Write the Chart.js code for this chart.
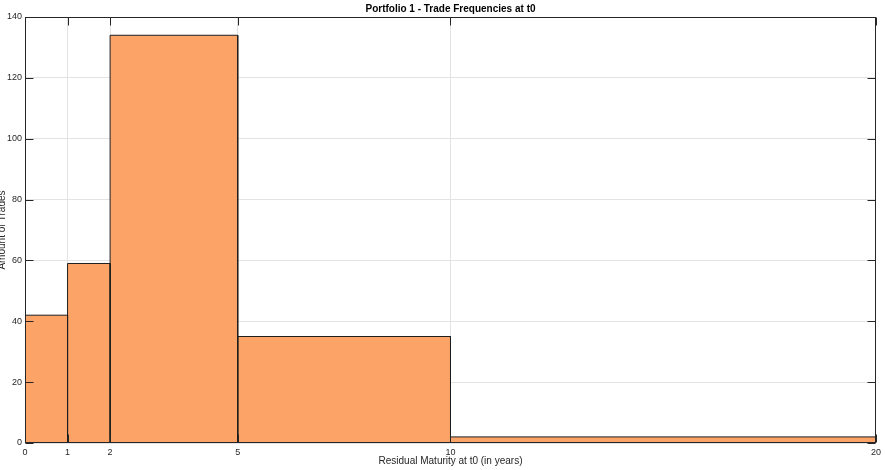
<!DOCTYPE html>
<html>
<head>
<meta charset="utf-8">
<script src="https://cdn.jsdelivr.net/npm/chart.js@4/dist/chart.umd.min.js"></script>
<style>
	html, body { margin: 0; padding: 0; background: #fff; }
	#wrap { width: 885px; height: 470px; }
</style>
</head>
<body>
<div id="wrap"><canvas id="myChart" width="885" height="470"></canvas></div>
<script>
// histogram data
const binEdges    = [0, 1, 2, 5, 10, 20]
const tradeCounts = [42, 59, 134, 35, 2]
const xTickValues = [0, 1, 2, 5, 10, 20]
const yTickValues = [0, 20, 40, 60, 80, 100, 120, 140]

const chartTitle = 'Portfolio 1 - Trade Frequencies at t0'
const xTitle     = 'Residual Maturity at t0 (in years)'
const yTitle     = 'Amount of Trades'

const barColor  = '#fca468'
const edgeColor = '#1e1e1e'
const axisColor = '#262626'
const gridColor = '#e3e3e3'
const fontFamily = "'Liberation Sans', Helvetica, Arial, sans-serif"

/* each bin becomes a closed outline, filled down to zero */
const datasets = tradeCounts.map((count, i) => ({
	data: [
		{ x: binEdges[i],     y: 0 },
		{ x: binEdges[i],     y: count },
		{ x: binEdges[i + 1], y: count },
		{ x: binEdges[i + 1], y: 0 }
	],
	showLine: true,
	fill: 'origin',
	backgroundColor: barColor,
	borderColor: edgeColor,
	borderWidth: 1,
	pointRadius: 0,
	tension: 0
}))

/* box, inward ticks and texts in the matlab look */
const frame = {
	id: 'frame',
	afterDatasetsDraw(chart) {
		const { ctx, chartArea: a, scales } = chart
		const L = Math.round(a.left) + 0.5, R = Math.round(a.right) - 0.5
		const T = Math.round(a.top) + 0.5, B = Math.round(a.bottom) - 0.5
		ctx.save()
		ctx.strokeStyle = axisColor
		ctx.lineWidth = 1
		ctx.beginPath()
		const tl = 8
		for (const v of xTickValues) {
			const px = Math.round(scales.x.getPixelForValue(v)) + 0.5
			ctx.moveTo(px, T); ctx.lineTo(px, T + tl)
			ctx.moveTo(px, B); ctx.lineTo(px, B - tl)
		}
		for (const v of yTickValues) {
			const py = Math.round(scales.y.getPixelForValue(v)) + 0.5
			ctx.moveTo(L, py); ctx.lineTo(L + tl, py)
			ctx.moveTo(R, py); ctx.lineTo(R - tl, py)
		}
		ctx.stroke()
		ctx.strokeRect(L, T, R - L, B - T)

		ctx.fillStyle = '#000'
		ctx.textAlign = 'center'
		ctx.textBaseline = 'middle'
		ctx.font = 'bold 10px ' + fontFamily
		ctx.fillText(chartTitle, (a.left + a.right) / 2, 9)

		ctx.fillStyle = axisColor
		ctx.font = '10px ' + fontFamily
		ctx.fillText(xTitle, (a.left + a.right) / 2, 461)

		ctx.translate(2, (a.top + a.bottom) / 2)
		ctx.rotate(-Math.PI / 2)
		ctx.fillText(yTitle, 0, 0)
		ctx.restore()
	}
}

const ctx = document.getElementById('myChart').getContext('2d')
const chart = new Chart(ctx, {
	type: 'scatter',
	data: { datasets },
	options: {
		responsive: false,
		animation: false,
		layout: { padding: { top: 17, right: 7, left: 0, bottom: 0 } },
		scales: {
			x: {
				type: 'linear',
				min: 0,
				max: 20,
				afterBuildTicks: scale => { scale.ticks = xTickValues.map(v => ({ value: v })) },
				afterFit: scale => { scale.height = 27 },
				border: { display: false },
				grid: { color: gridColor, drawTicks: false },
				ticks: {
					color: axisColor,
					padding: 4,
					maxRotation: 0,
					autoSkip: false,
					font: { family: fontFamily, size: 9 }
				}
			},
			y: {
				min: 0,
				max: 140,
				afterFit: scale => { scale.width = 25 },
				border: { display: false },
				grid: { color: gridColor, drawTicks: false },
				ticks: {
					stepSize: 20,
					color: axisColor,
					padding: 3,
					font: { family: fontFamily, size: 9 }
				}
			}
		},
		plugins: {
			legend: { display: false },
			tooltip: { enabled: false }
		}
	},
	plugins: [frame]
})
</script>
</body>
</html>
